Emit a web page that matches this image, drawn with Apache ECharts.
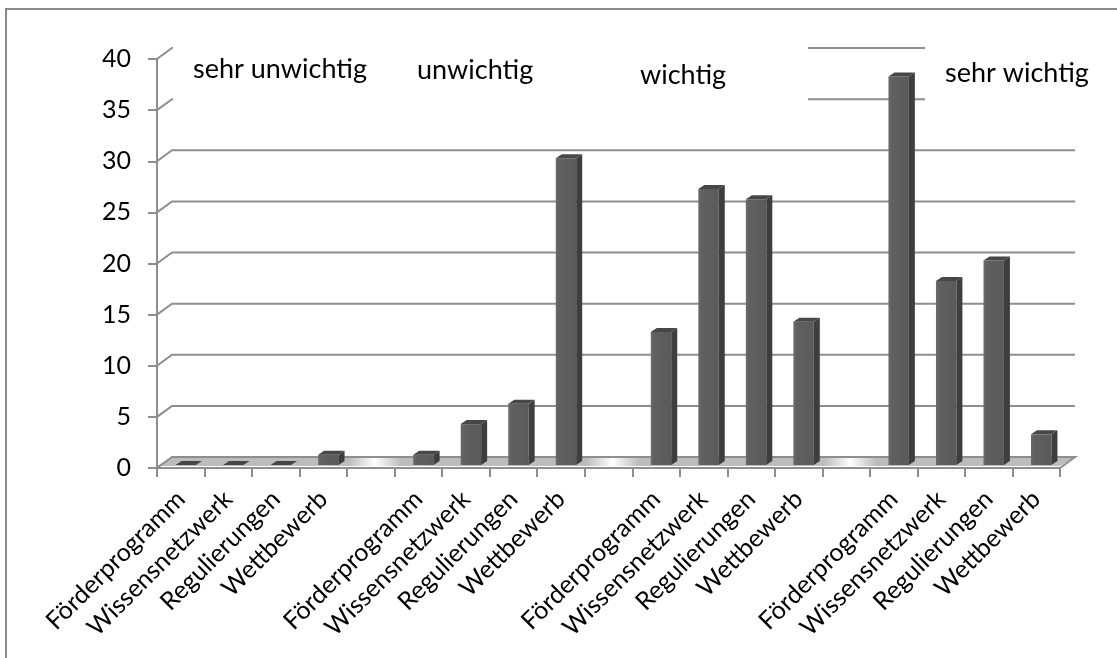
<!DOCTYPE html>
<html>
<head>
<meta charset="utf-8">
<script src="https://cdn.jsdelivr.net/npm/echarts@6/dist/echarts.min.js"></script>
<style>
  html, body { margin: 0; padding: 0; background: #ffffff; }
  #chart { width: 1117px; height: 658px; }
</style>
</head>
<body>
<div id="chart"></div>
<script>
// Rating groups and the four items asked in each of them
const groups = ['sehr unwichtig', 'unwichtig', 'wichtig', 'sehr wichtig'];
const items = ['Förderprogramm', 'Wissensnetzwerk', 'Regulierungen', 'Wettbewerb'];

// Number of answers per item, one array per rating
const sehrUnwichtig = [0, 0, 0, 1];
const unwichtig = [1, 4, 6, 30];
const wichtig = [13, 27, 26, 14];
const sehrWichtig = [38, 18, 20, 3];

// Value axis ticks
const yTicks = [0, 5, 10, 15, 20, 25, 30, 35, 40];

const FONT = 'Lato';
const GRID_COLOR = '#8e8e8e';
const DEPTH_X = 15, DEPTH_Y = -11;   // offset of the back wall against the front plane

// One category per bar, with an empty slot between the rating groups
const categories = [];
const barData = [];
const gapIndex = [];
[sehrUnwichtig, unwichtig, wichtig, sehrWichtig].forEach((vals, g) => {
  if (g > 0) { gapIndex.push(categories.length); categories.push(''); }
  vals.forEach((v, k) => {
    barData.push([categories.length, v]);
    categories.push(items[k]);
  });
});

// Back wall gridlines and the floor of the 3D plot area
function renderWall(params, api) {
  const v = api.value(1);
  const cs = params.coordSys;
  const x0 = cs.x, x1 = cs.x + cs.width;
  const y = api.coord([0, v])[1];
  if (v !== 0) {
    return {
      type: 'polyline',
      shape: { points: [[x0, y], [x0 + DEPTH_X, y + DEPTH_Y], [x1 + DEPTH_X, y + DEPTH_Y]] },
      style: { stroke: GRID_COLOR, lineWidth: 2, fill: null }
    };
  }
  // floor shading: grey under the bars, fading to white in the gaps
  const band = api.size([1, 0])[0];
  const span = x1 + DEPTH_X - x0;
  const stops = [{ offset: 0, color: '#bcbcbc' }];
  gapIndex.forEach(gi => {
    const c = api.coord([gi, 0])[0] + 4;
    stops.push({ offset: (c - band * 0.55 - x0) / span, color: '#bcbcbc' });
    stops.push({ offset: (c - x0) / span, color: '#ffffff' });
    stops.push({ offset: (c + band * 0.55 - x0) / span, color: '#bcbcbc' });
  });
  stops.push({ offset: 1, color: '#bcbcbc' });
  return {
    type: 'group',
    children: [
      {
        type: 'polygon',
        shape: { points: [[x0, y - 2], [x1, y - 2], [x1 + DEPTH_X, y + DEPTH_Y], [x0 + DEPTH_X, y + DEPTH_Y]] },
        style: { fill: new echarts.graphic.LinearGradient(0, 0, 1, 0, stops) }
      },
      {
        type: 'polyline',
        shape: { points: [[x0, y], [x0 + DEPTH_X, y + DEPTH_Y], [x1 + DEPTH_X, y + DEPTH_Y], [x1, y]] },
        style: { stroke: GRID_COLOR, lineWidth: 2, fill: null }
      }
    ]
  };
}

// Box-shaped bars: front face, right side and top
function renderBar(params, api) {
  const i = api.value(0), v = api.value(1);
  const base = api.coord([i, 0]);
  const top = api.coord([i, v]);
  const band = api.size([1, 0])[0];
  const w = band * 0.43;
  const px = 5, py = -3;     // placement inside the floor depth
  const sx = 6, sy = -4;     // depth of the bar itself
  const xl = base[0] - w / 2 + px, xr = xl + w;
  const yb = base[1] + py, yt = top[1] + py;
  const children = [];
  if (yb - yt > 0.5) {
    children.push({
      type: 'rect',
      shape: { x: xl, y: yt, width: w, height: yb - yt },
      style: {
        fill: new echarts.graphic.LinearGradient(0, 0, 1, 0, [
          { offset: 0, color: '#6c6c6c' },
          { offset: 0.15, color: '#606060' },
          { offset: 1, color: '#5a5a5a' }
        ])
      }
    });
    children.push({
      type: 'polygon',
      shape: { points: [[xr, yt], [xr + sx, yt + sy], [xr + sx, yb + sy], [xr, yb]] },
      style: { fill: '#3e3e3e' }
    });
  }
  children.push({
    type: 'polygon',
    shape: { points: [[xl, yt], [xl + sx, yt + sy], [xr + sx, yt + sy], [xr, yt]] },
    style: { fill: '#474747' }
  });
  return { type: 'group', children };
}

// Rating names above the bars, on white text boxes
const labelBoxes = [
  { left: 173, right: 808 },
  { left: 925, right: 1080 }
];
const labelPos = [
  { x: 193, y: 69 },
  { x: 417, y: 70 },
  { x: 640, y: 75 },
  { x: 945, y: 73 }
];

const chart = echarts.init(document.getElementById('chart'), null, { renderer: 'canvas' });
chart.setOption({
  animation: false,
  backgroundColor: '#ffffff',
  grid: { left: 157, right: 57, top: 59, bottom: 190, containLabel: false },
  xAxis: {
    type: 'category',
    data: categories,
    boundaryGap: true,
    axisLine: { show: true, lineStyle: { color: GRID_COLOR, width: 2 } },
    axisTick: { show: true, interval: 0, length: 9, lineStyle: { color: GRID_COLOR, width: 2 } },
    axisLabel: {
      interval: 0, rotate: 45, margin: 27,
      fontFamily: FONT, fontSize: 25, color: '#000000'
    },
    splitLine: { show: false }
  },
  yAxis: {
    type: 'value',
    min: 0, max: 40, interval: 5,
    axisLine: { show: true, lineStyle: { color: GRID_COLOR, width: 2 } },
    axisTick: { show: true, length: 9, lineStyle: { color: GRID_COLOR, width: 2 } },
    axisLabel: {
      margin: 26, fontFamily: FONT, fontSize: 25, color: '#000000',
      customValues: yTicks
    },
    splitLine: { show: false }
  },
  graphic: [
    {
      type: 'rect', z: 0,
      shape: { x: 6, y: 9, width: 1300, height: 800 },
      style: { fill: null, stroke: '#8a8a8a', lineWidth: 2 }
    },
    ...labelBoxes.map(b => ({
      type: 'rect', z: 10,
      shape: { x: b.left, y: 36, width: b.right - b.left, height: 68 },
      style: { fill: '#ffffff' }
    })),
    ...groups.map((g, k) => ({
      type: 'text', z: 11,
      x: labelPos[k].x, y: labelPos[k].y,
      style: {
        text: g, fontFamily: FONT, fontSize: 27, fill: '#000000',
        align: 'left', verticalAlign: 'middle'
      }
    }))
  ],
  series: [
    {
      type: 'custom',
      name: 'wall',
      z: 1,
      silent: true,
      renderItem: renderWall,
      data: yTicks.map(v => [0, v])
    },
    {
      type: 'custom',
      name: 'Antworten',
      z: 3,
      renderItem: renderBar,
      data: barData
    }
  ]
});
</script>
</body>
</html>
